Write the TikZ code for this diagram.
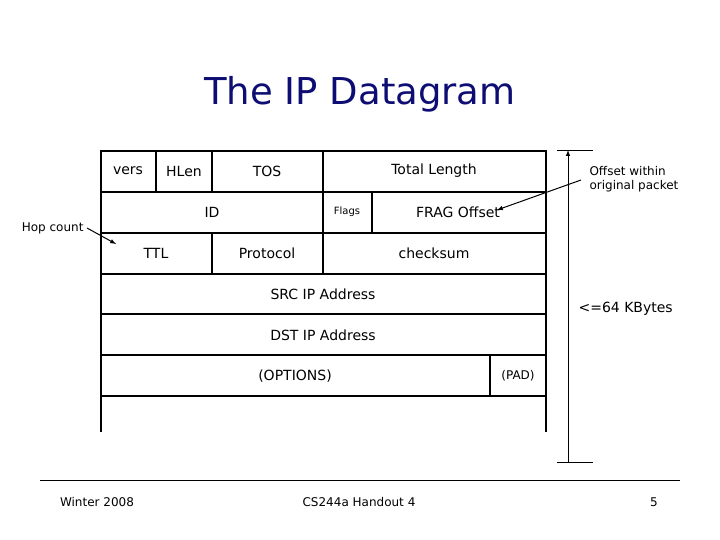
\documentclass[tikz,border=0pt]{standalone}
\usepackage{fontspec}
\setmainfont{DejaVu Sans}
\begin{document}
\begin{tikzpicture}[x=1pt,y=-1pt,
 cell/.style={draw=none,font=\fontsize{14}{16}\selectfont},
 small/.style={font=\fontsize{12}{14}\selectfont},
 thick line/.style={line width=2.5pt},
 arr/.style={line width=1pt,-latex}]
\useasboundingbox (0,0) rectangle (720,540);
\node (title) at (360,94) {\fontsize{37}{42}\selectfont\color[rgb]{0.05,0.05,0.45}The IP Datagram};
% table
\draw[thick line] (101,432) -- (101,151) -- (546,151) -- (546,432);
\foreach \y in {192,233,274,314,355,396} \draw[thick line] (101,\y) -- (546,\y);
\draw[thick line] (156,151) -- (156,192) (212,151) -- (212,192) (323,151) -- (323,274)
 (372,192) -- (372,233) (212,233) -- (212,274) (490,355) -- (490,396);
\node[cell] (vers) at (128,171) {vers};
\node[cell] (hlen) at (184,171) {HLen};
\node[cell] (tos) at (267,171) {TOS};
\node[cell] (tl) at (434,171) {Total Length};
\node[cell] (id) at (212,212) {ID};
\node[small,font=\fontsize{10}{12}\selectfont] (flags) at (347,212) {Flags};
\node[cell] (frag) at (458,212) {FRAG Offset};
\node[cell] (ttl) at (156,253) {TTL};
\node[cell] (proto) at (267,253) {Protocol};
\node[cell] (cks) at (434,253) {checksum};
\node[cell] (src) at (323,294) {SRC IP Address};
\node[cell] (dst) at (323,335) {DST IP Address};
\node[cell] (opt) at (295,376) {(OPTIONS)};
\node[small] (pad) at (518,376) {(PAD)};
% size arrow
\draw (557,150) -- (593,150) (557,462) -- (593,462);
\coordinate (ab) at (568,462); \coordinate (at) at (568,150);
\draw[arr] (ab) -- (at);
\node[cell,anchor=west] (kb) at (575,309) {<=64 KBytes};
\node[small,align=left,anchor=west] (offs) at (586,179) {Offset within\\original packet};
\coordinate (o1) at (581,180);
\draw[arr] (o1) -- (497,210);
\node[small,anchor=east] (hop) at (87,228) {Hop count};
\draw[arr] (hop.east) -- (116,244);
% footer
\draw (40,480) -- (680,480);
\node[small] (f1) at (97,502) {Winter 2008};
\node[small] (f2) at (359,502) {CS244a Handout 4};
\node[small] (f3) at (654,502) {5};
\end{tikzpicture}
\end{document}
